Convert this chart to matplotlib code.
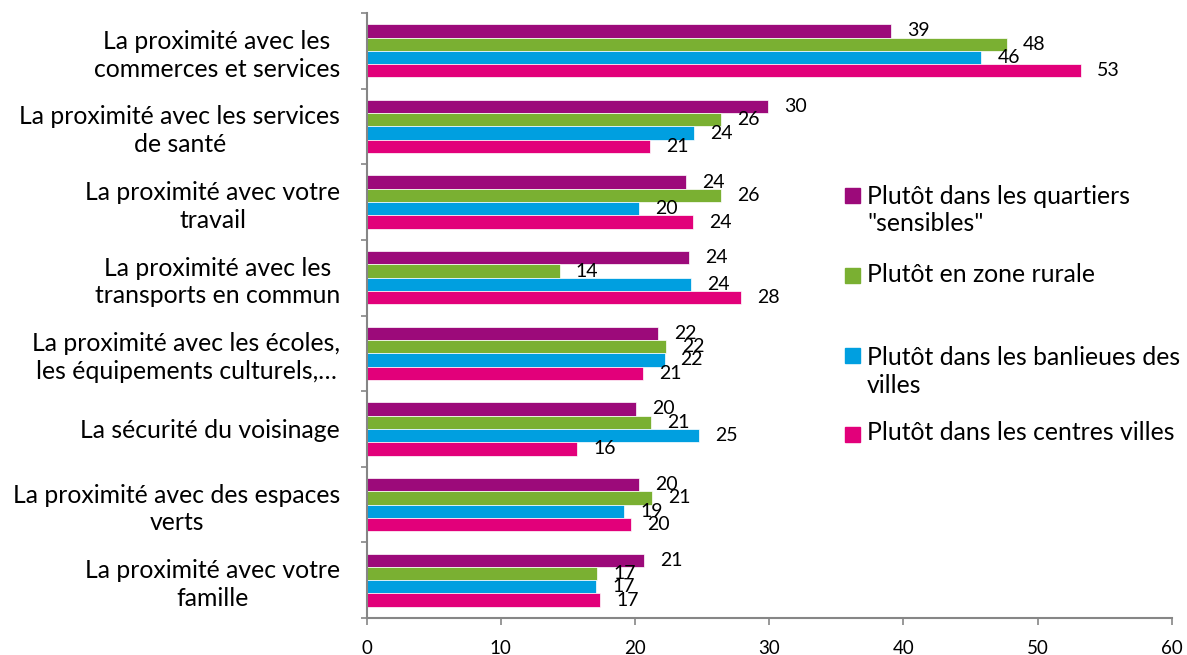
import matplotlib
matplotlib.use("Agg")
import matplotlib.pyplot as plt
import numpy as np
from matplotlib.patches import Rectangle

plt.rcParams['font.family'] = ['Lato', 'DejaVu Sans']

# data
categories = [
    "La proximité avec les\ncommerces et services",
    "La proximité avec les services\nde santé",
    "La proximité avec votre\ntravail",
    "La proximité avec les\ntransports en commun",
    "La proximité avec les écoles,\nles équipements culturels,…",
    "La sécurité du voisinage",
    "La proximité avec des espaces\nverts",
    "La proximité avec votre\nfamille",
]
series_names = [
    "Plutôt dans les quartiers\n\"sensibles\"",
    "Plutôt en zone rurale",
    "Plutôt dans les banlieues des\nvilles",
    "Plutôt dans les centres villes",
]
sensibles = [39.1, 29.9, 23.8, 24.0, 21.7, 20.1, 20.3, 20.7]
rurale = [47.7, 26.4, 26.4, 14.4, 22.3, 21.2, 21.3, 17.2]
banlieues = [45.8, 24.4, 20.3, 24.2, 22.2, 24.8, 19.2, 17.1]
centres = [53.2, 21.1, 24.3, 27.9, 20.6, 15.7, 19.7, 17.4]
xticks = [0, 10, 20, 30, 40, 50, 60]

colors = ['#9C0A7A', '#7AB032', '#009FE0', '#E2007A']
values = [sensibles, rurale, banlieues, centres]

W, H = 1187, 655
fig = plt.figure(figsize=(W / 100, H / 100), dpi=100)
ax = fig.add_axes([366.5 / W, 1 - 618 / H, (1172 - 366.5) / W, (618 - 13) / H])

y = np.arange(len(categories))
h = 0.176
for k, (vals, col) in enumerate(zip(values, colors)):
    pos = y + (k - 1.5) * h
    ax.barh(pos, vals, height=h, color=col, edgecolor='white', linewidth=0.5)
    for p, v in zip(pos, vals):
        ax.annotate(f"{int(round(v))}", (v, p), xytext=(11.5, 0),
                    textcoords='offset points', ha='left', va='center',
                    fontsize=14, color='black')

ax.set_xlim(0, 60)
ax.set_ylim(len(categories) - 0.5, -0.5)
ax.set_xticks(xticks)
ax.set_xticklabels([str(t) for t in xticks], fontsize=13.5)
ax.set_yticks(y)
ax.set_yticklabels(categories, fontsize=17.8, multialignment='center',
                   linespacing=1.25)
ax.set_yticks(np.arange(-0.5, len(categories), 1), minor=True)
ax.tick_params(axis='y', which='major', length=0, pad=19)
ax.tick_params(axis='y', which='minor', length=4.5, color='#868686', width=1.2)
ax.tick_params(axis='x', length=5, color='#868686', width=1.2, pad=11)

for s in ['top', 'right']:
    ax.spines[s].set_visible(False)
for s in ['left', 'bottom']:
    ax.spines[s].set_color('#868686')
    ax.spines[s].set_linewidth(1.5)

# legend, laid out like the original
leg_y = [210, 275, 371.5, 433]
leg_sq = [195.5, 275.5, 355.5, 434.5]
for name, col, ty, sy in zip(series_names, colors, leg_y, leg_sq):
    fig.patches.append(Rectangle((845 / W, 1 - (sy + 7.5) / H), 15 / W, 15 / H,
                                 transform=fig.transFigure, color=col))
    fig.text(867 / W, 1 - ty / H, name, ha='left', va='center',
             fontsize=17.8, linespacing=1.25)

fig.savefig('out.png', dpi=100)
